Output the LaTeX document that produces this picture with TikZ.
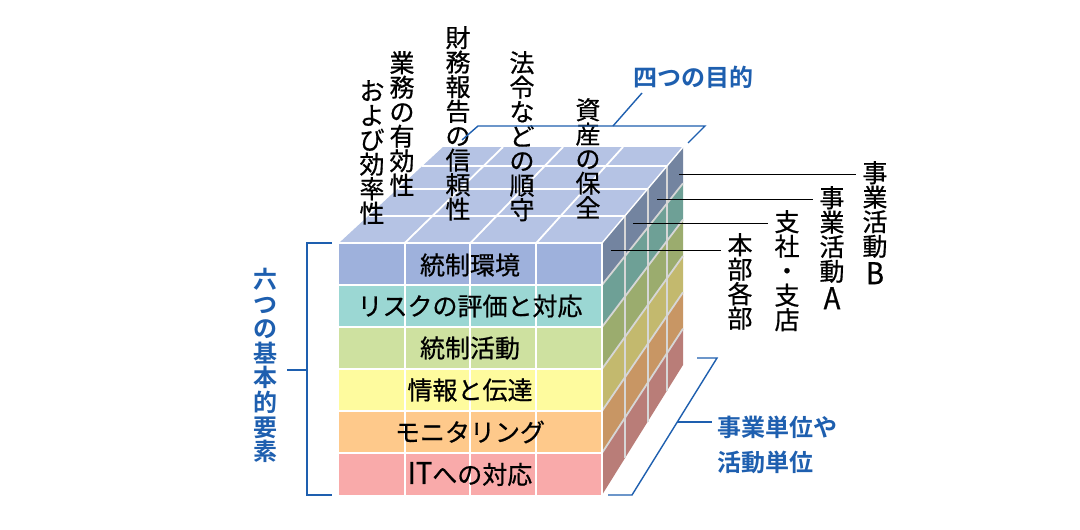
\documentclass[tikz,border=0pt]{standalone}
\usepackage{fontspec}
\usepackage{graphicx}
\newfontfamily\jp{Noto Sans CJK JP}[FakeBold=0.6]
\newfontfamily\jpb{Noto Sans CJK JP Bold}
\usetikzlibrary{calc}
\definecolor{topc}{HTML}{B5C3E4}
\definecolor{fA}{HTML}{9EB1DC}
\definecolor{fB}{HTML}{9BD7D3}
\definecolor{fC}{HTML}{CEE1A0}
\definecolor{fD}{HTML}{FEFB9E}
\definecolor{fE}{HTML}{FEC98B}
\definecolor{fF}{HTML}{F9AAAA}
\definecolor{sA}{HTML}{7384A0}
\definecolor{sB}{HTML}{6EA096}
\definecolor{sC}{HTML}{9BAC6E}
\definecolor{sD}{HTML}{C3B96E}
\definecolor{sE}{HTML}{C89664}
\definecolor{sF}{HTML}{B97D78}
\definecolor{gridg}{HTML}{D6D6D6}
\definecolor{blu}{HTML}{1E5FAF}
% projection: u across, v down, d depth
\newcommand\cpt[3]{({(1-(#3))*(339+263*(#1))+(#3)*(443+240*(#1))},{(1-(#3))*(243+252*(#2))+(#3)*(147+218*(#2))})}
\newcommand\tall[1]{\scalebox{1.1}[1.2]{#1}}
\tikzset{
  jpf/.style={font=\jp\fontsize{25}{24.5}\selectfont},
  vlab/.style={jpf, align=center, inner sep=0pt, anchor=north, text=black},
  rowlab/.style={jpf, inner sep=0pt, text=black},
  bluelab/.style={font=\jpb\fontsize{24}{24.5}\selectfont, text=blu, inner sep=0pt},
  brk/.style={draw=blu, line width=1.4pt},
  lead/.style={draw=black, line width=0.9pt},
  wgrid/.style={draw=white, line width=1.8pt},
  ggrid/.style={draw=gridg, line width=1.8pt}
}
\begin{document}
\begin{tikzpicture}[x=1pt,y=-1pt]
\useasboundingbox (0,0) rectangle (1080,530);
\fill[white] (0,0) rectangle (1080,530);

% top face
\fill[topc] \cpt{0}{0}{0} -- \cpt{1}{0}{0} -- \cpt{1}{0}{1} -- \cpt{0}{0}{1} -- cycle;
\foreach \d in {0.285,0.565,0.8} \draw[wgrid] \cpt{0}{0}{\d} -- \cpt{1}{0}{\d};
\foreach \u in {0.25,0.5,0.75} \draw[wgrid] \cpt{\u}{0}{0} -- \cpt{\u}{0}{1};

% right face
\foreach \r/\c in {0/sA,1/sB,2/sC,3/sD,4/sE,5/sF}
  \fill[\c] \cpt{1}{\r/6}{0} -- \cpt{1}{(\r+1)/6}{0} -- \cpt{1}{(\r+1)/6}{1} -- \cpt{1}{\r/6}{1} -- cycle;
\foreach \d in {0.285,0.565,0.8} \draw[ggrid] \cpt{1}{0}{\d} -- \cpt{1}{1}{\d};
\foreach \r in {1,...,5} \draw[ggrid] \cpt{1}{\r/6}{0} -- \cpt{1}{\r/6}{1};
\draw[wgrid, line width=1.4pt] \cpt{1}{0}{0} -- \cpt{1}{0}{1};

% front face
\foreach \r/\c in {0/fA,1/fB,2/fC,3/fD,4/fE,5/fF}
  \fill[\c] (339,{243+42*\r}) rectangle (602,{285+42*\r});
\foreach \x in {405,470,536} \draw[wgrid] (\x,243) -- (\x,495);
\foreach \r in {1,...,5} \draw[wgrid] (339,{243+42*\r}) -- (602,{243+42*\r});
\draw[wgrid] (339,243) -- (602,243);
\draw[wgrid] (602,243) -- (602,495);

% row labels
\node[rowlab] (r1) at (470,265) {統制環境};
\node[rowlab] (r2) at (470,306) {リスクの評価と対応};
\node[rowlab] (r3) at (470,348) {統制活動};
\node[rowlab] (r4) at (470,390) {情報と伝達};
\node[rowlab] (r5) at (470,432) {モニタリング};
\node[rowlab] (r6) at (470,474) {\tall{IT}への対応};

% four objectives (vertical)
\node[vlab] (o1b) at (372,80) {お\\よ\\び\\効\\率\\性};
\node[vlab] (o1a) at (402,51) {業\\務\\の\\有\\効\\性};
\node[vlab] (o2) at (458,26) {財\\務\\報\\告\\の\\信\\頼\\性};
\node[vlab] (o3) at (522,51) {法\\令\\な\\ど\\の\\順\\守};
\node[vlab] (o4) at (588,98) {資\\産\\の\\保\\全};

% depth labels (vertical)
\node[vlab] (d1) at (740,233) {本\\部\\各\\部};
\node[vlab] (d2) at (787,210) {支\\社\\・\\支\\店};
\node[vlab] (d3) at (832,186) {事\\業\\活\\動\\[4pt]\tall{A}};
\node[vlab] (d4) at (875,161) {事\\業\\活\\動\\[4pt]\tall{B}};

% leader lines
\coordinate (l1) at (611,250);
\coordinate (l2) at (633,223);
\coordinate (l3) at (657,199);
\coordinate (l4) at (679,174);
\draw[lead] (l1) -- ([xshift=-6pt]d1.west |- l1);
\draw[lead] (l2) -- ([xshift=-6pt]d2.west |- l2);
\draw[lead] (l3) -- ([xshift=-6pt]d3.west |- l3);
\draw[lead] (l4) -- ([xshift=-6pt]d4.west |- l4);

% blue labels
\node[bluelab] (goal) at (693,77) {四つの目的};
\node[bluelab, align=center, anchor=north, font=\jpb\fontsize{24}{24.6}\selectfont] (six) at (265,268) {六\\つ\\の\\基\\本\\的\\要\\素};
\node[bluelab, align=left, anchor=north west, font=\jpb\fontsize{24}{35}\selectfont] (unit) at (717,416) {事業単位や\\活動単位};

% top bracket
\coordinate (tb1) at (462,140);
\coordinate (tb2) at (478,126);
\coordinate (tb3) at (705,126);
\coordinate (tb4) at (688,143);
\coordinate (tbm) at (613,126);
\coordinate (tbp) at (642,93);
\draw[brk] (tb1) -- (tb2) -- (tb3) -- (tb4);
\draw[brk] (tbm) -- (tbp);

% left bracket
\coordinate (lb1) at (332,243);
\coordinate (lb2) at (307,243);
\coordinate (lb3) at (307,495);
\coordinate (lb4) at (332,495);
\coordinate (lbm) at (307,370);
\coordinate (lbp) at (287,370);
\draw[brk] (lb1) -- (lb2) -- (lb3) -- (lb4);
\draw[brk] (lbm) -- (lbp);

% right bracket
\coordinate (rb1) at (697,358);
\coordinate (rb2) at (717,358);
\coordinate (rb3) at (632,495);
\coordinate (rb4) at (608,495);
\coordinate (rbm) at (677,422);
\coordinate (rbp) at (712,422);
\draw[brk] (rb1) -- (rb2) -- (rb3) -- (rb4);
\draw[brk] (rbm) -- (rbp);
\end{tikzpicture}
\end{document}
